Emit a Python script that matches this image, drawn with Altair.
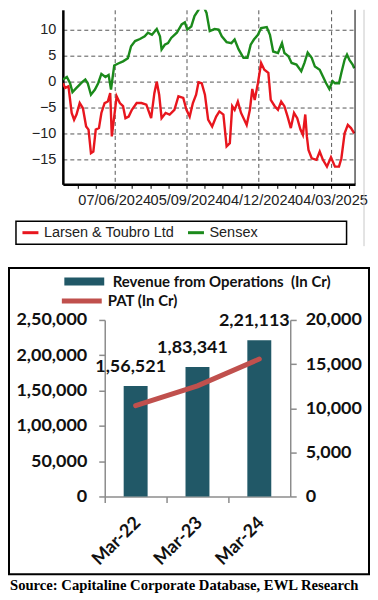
import altair as alt
import pandas as pd

# ---------------- Top chart: relative performance (%) ----------------
lt_name = "Larsen & Toubro Ltd"
sx_name = "Sensex"

lt_dates = ["2024-04-04","2024-04-07","2024-04-11","2024-04-15","2024-04-18","2024-04-21","2024-04-25","2024-04-29","2024-05-03","2024-05-06",
            "2024-05-09","2024-05-12","2024-05-15","2024-05-19","2024-05-22","2024-05-26","2024-05-30","2024-06-02","2024-06-04","2024-06-07",
            "2024-06-10","2024-06-14","2024-06-18","2024-06-21","2024-06-25","2024-06-29","2024-07-05","2024-07-11","2024-07-17","2024-07-23",
            "2024-07-27","2024-07-30","2024-08-02","2024-08-05","2024-08-10","2024-08-15","2024-08-21","2024-08-26","2024-09-01","2024-09-05",
            "2024-09-09","2024-09-13","2024-09-17","2024-09-20","2024-09-24","2024-09-28","2024-10-02","2024-10-07","2024-10-12","2024-10-16",
            "2024-10-21","2024-10-25","2024-10-29","2024-11-01","2024-11-04","2024-11-08","2024-11-12","2024-11-16","2024-11-19","2024-11-23",
            "2024-11-26","2024-11-29","2024-12-03","2024-12-07","2024-12-11","2024-12-16","2024-12-19","2024-12-24","2024-12-28","2025-01-01",
            "2025-01-05","2025-01-09","2025-01-13","2025-01-17","2025-01-21","2025-01-25","2025-01-28","2025-01-31","2025-02-02","2025-02-04",
            "2025-02-08","2025-02-14","2025-02-18","2025-02-22","2025-02-27","2025-03-04","2025-03-09","2025-03-14","2025-03-17","2025-03-21",
            "2025-03-25","2025-03-29","2025-04-02"]
lt_values = [-0.3,-1.2,-0.9,-6.0,-7.3,-6.3,-4.1,-5.1,-8.6,-9.2,
             -13.7,-13.4,-9.2,-8.9,-6.0,-4.1,-3.8,-2.2,-10.5,-6.7,
             -2.8,-4.1,-4.7,-7.0,-6.7,-5.4,-4.1,-4.1,-4.4,-7.0,
             -2.2,0.0,-2.5,-7.0,-6.0,-6.3,-5.4,-2.8,-3.1,-5.4,
             -6.7,-4.1,-2.5,-0.1,-0.3,-2.5,-7.3,-8.6,-6.7,-5.7,
             -6.3,-12.4,-11.8,-4.7,-5.4,-3.8,-6.0,-7.3,-8.3,-5.4,
             -1.4,-3.5,-0.3,3.6,2.3,1.7,-3.5,-4.7,-5.4,-3.8,
             -4.7,-6.7,-8.9,-6.0,-7.0,-9.2,-10.2,-6.3,-10.5,-13.1,
             -14.7,-15.0,-13.4,-15.0,-16.3,-14.5,-16.3,-16.3,-14.7,-9.9,
             -8.3,-8.9,-9.9]

sx_dates = ["2024-04-04","2024-04-09","2024-04-13","2024-04-16","2024-04-21","2024-04-28","2024-05-02","2024-05-05","2024-05-09","2024-05-14",
            "2024-05-18","2024-05-22","2024-05-27","2024-05-31","2024-06-03","2024-06-07","2024-06-12","2024-06-18","2024-06-24","2024-06-28",
            "2024-07-03","2024-07-09","2024-07-15","2024-07-19","2024-07-24","2024-07-30","2024-08-03","2024-08-05","2024-08-09","2024-08-13",
            "2024-08-17","2024-08-24","2024-08-30","2024-09-03","2024-09-06","2024-09-11","2024-09-15","2024-09-20","2024-09-24","2024-09-27",
            "2024-09-30","2024-10-04","2024-10-10","2024-10-15","2024-10-19","2024-10-25","2024-10-31","2024-11-04","2024-11-09","2024-11-15",
            "2024-11-20","2024-11-24","2024-11-28","2024-12-03","2024-12-07","2024-12-14","2024-12-18","2024-12-22","2024-12-28","2025-01-02",
            "2025-01-05","2025-01-10","2025-01-14","2025-01-20","2025-01-26","2025-01-30","2025-02-03","2025-02-08","2025-02-12","2025-02-18",
            "2025-02-22","2025-02-26","2025-03-02","2025-03-06","2025-03-09","2025-03-14","2025-03-17","2025-03-21","2025-03-24","2025-03-27",
            "2025-03-31","2025-04-02"]
sx_values = [0.4,0.9,-0.3,-2.0,-1.2,-0.1,0.4,-0.3,-2.5,-1.5,
             -0.3,1.5,0.9,1.3,-1.5,3.1,3.5,3.9,4.5,6.8,
             7.8,8.2,8.7,9.4,9.0,10.1,8.7,6.2,7.1,7.4,
             8.4,9.4,11.0,11.4,10.0,10.6,12.6,13.8,15.1,14.2,
             13.2,9.7,10.1,10.0,8.7,7.6,7.4,8.1,6.2,4.6,
             4.6,7.1,8.1,9.0,10.3,10.5,9.0,5.8,5.5,7.4,
             5.5,4.9,3.6,3.3,2.0,3.6,5.6,4.6,2.9,2.3,
             1.0,-0.3,-1.4,0.1,-0.3,-0.3,1.7,4.2,5.2,4.2,
             3.3,2.6]

major_labels = ["07/06/2024", "05/09/2024", "04/12/2024", "04/03/2025"]
tick_dates = ["2024-04-23","2024-05-15","2024-06-07","2024-06-29","2024-07-22","2024-08-14",
              "2024-09-05","2024-09-28","2024-10-20","2024-11-12","2024-12-04","2024-12-27",
              "2025-01-18","2025-02-10","2025-03-04","2025-03-27"]
x_start, x_end = "2024-04-04", "2025-04-03"
y_ticks = [-15, -10, -5, 0, 5, 10]

# ---------------- Bottom chart: revenue & PAT ----------------
periods = ["Mar-22", "Mar-23", "Mar-24"]
revenue = [156521, 183341, 221113]
revenue_labels = ["1,56,521", "1,83,341", "2,21,113"]
pat = [10291, 12531, 15569]
rev_axis_values = [0, 50000, 100000, 150000, 200000, 250000]
rev_axis_labels = ["0", "50,000", "1,00,000", "1,50,000", "2,00,000", "2,50,000"]
pat_axis_values = [0, 5000, 10000, 15000, 20000]
rev_name = "Revenue from Operations\u00a0 (In Cr)"
pat_name = "PAT (In Cr)"
source_text = "Source: Capitaline Corporate Database, EWL Research"


def ms(d):
    return int(pd.Timestamp(d, tz="UTC").timestamp() * 1000)


one = pd.DataFrame({"k": [0]})

# ---------- top chart ----------
W1, H1 = 293, 175
lines_df = pd.DataFrame({
    "date": lt_dates + sx_dates,
    "value": lt_values + sx_values,
    "series": [lt_name] * len(lt_dates) + [sx_name] * len(sx_dates),
})
major_js = "[" + ",".join("'" + s + "'" for s in major_labels) + "]"
is_major = "indexof(" + major_js + ", utcFormat(datum.value, '%d/%m/%Y')) >= 0"

x_top = alt.X(
    "date:T", title=None,
    scale=alt.Scale(type="utc", domain=[ms(x_start), ms(x_end)], nice=False),
    axis=alt.Axis(
        values=[ms(d) for d in tick_dates],
        labelExpr=is_major + " ? utcFormat(datum.value, '%d/%m/%Y') : ''",
        labelOverlap=False, labelFlush=False, labelBound=False,
        grid=True, gridOpacity={"condition": {"test": is_major, "value": 1}, "value": 0},
        gridDash=[4, 3], gridColor="#555555", gridWidth=1,
        domainColor="black", domainWidth=2.5,
        tickColor="black", tickSize=4, tickWidth=1,
        labelFont="Liberation Sans", labelFontSize=14.6, labelColor="#222222", labelPadding=4,
    ),
)
y_top = alt.Y(
    "value:Q", title=None,
    scale=alt.Scale(domain=[-19.7, 13.8], nice=False, zero=False),
    axis=alt.Axis(
        values=y_ticks, grid=True, gridDash=[4, 3], gridColor="#555555", gridWidth=1,
        domainColor="black", domainWidth=2.5, ticks=False, labelOverlap=False,
        labelFont="Liberation Sans", labelFontSize=14.5, labelColor="#222222", labelPadding=7,
    ),
)
color_top = alt.Color(
    "series:N",
    scale=alt.Scale(domain=[lt_name, sx_name], range=["#e8161e", "#1b8a1b"]),
    legend=alt.Legend(
        title=None, orient="none", legendX=-42, legendY=214, direction="horizontal",
        symbolType="stroke", symbolSize=256, symbolStrokeWidth=3,
        labelFont="Liberation Sans", labelFontSize=14.5, labelColor="#222222",
        labelOffset=4, columnPadding=7, labelLimit=300, padding=0,
    ),
)
lines = alt.Chart(lines_df).mark_line(strokeWidth=2.4, clip=True).encode(
    x=x_top, y=y_top, color=color_top
)
frame_right = alt.Chart(one).mark_rule(color="black", strokeWidth=1).encode(
    x=alt.value(W1), y=alt.value(0), y2=alt.value(H1))
page_line = alt.Chart(one).mark_rule(color="#c8c8c8", strokeWidth=1).encode(
    x=alt.value(302), y=alt.value(0), y2=alt.value(237))
legend_box = alt.Chart(one).mark_rect(fillOpacity=0, stroke="black", strokeWidth=1.5).encode(
    x=alt.value(-47), x2=alt.value(284.5), y=alt.value(212), y2=alt.value(235))
left_anchor = alt.Chart(one).mark_rule(color="white", strokeWidth=1).encode(
    x=alt.value(-53), y=alt.value(0), y2=alt.value(2))

top = alt.layer(lines, frame_right, page_line, legend_box, left_anchor).properties(width=W1, height=H1)

# ---------- bottom chart ----------
# Both panels share the same left origin (concat aligns view origins), so the
# bottom panel's plot area is shifted right inside its view by SHIFT pixels.
SHIFT = 42
PW2, H2 = 186, 177
W2 = SHIFT + PW2
bar_df = pd.DataFrame({
    "period": periods, "revenue": revenue, "label": revenue_labels, "pat": pat,
    "rev_name": [rev_name] * 3, "pat_name": [pat_name] * 3,
})
rev_labels_js = "[" + ",".join("'" + s + "'" for s in rev_axis_labels) + "]"
bold = dict(labelFont="Lato", labelFontWeight="bold", labelFontSize=18, labelColor="#111111",
            labelOverlap=False)

x_bot = alt.X(
    "period:N", sort=periods, title=None,
    scale=alt.Scale(paddingInner=0, paddingOuter=0, range=[SHIFT, W2]),
    axis=alt.Axis(labelAngle=-45, bandPosition=0, labelPadding=11, labelOffset=-4,
                  domainColor="#8c8c8c", domainWidth=1.5, tickColor="#8c8c8c", tickSize=6,
                  tickWidth=1.5, **bold),
)
y_rev = alt.Y(
    "revenue:Q", title=None, scale=alt.Scale(domain=[0, 250000], nice=False),
    axis=alt.Axis(values=rev_axis_values, offset=-SHIFT,
                  labelExpr=rev_labels_js + "[round(datum.value / 50000)]",
                  grid=False, domainColor="#8c8c8c", domainWidth=1.5,
                  tickColor="#8c8c8c", tickSize=6, tickWidth=1.5, labelPadding=12, **bold),
)
legend_font = dict(labelFont="Lato", labelFontWeight="bold", labelFontSize=15,
                   labelColor="#111111", labelLimit=400, padding=0, title=None, orient="none")
bars = alt.Chart(bar_df).mark_bar(size=24).encode(
    x=x_bot,
    y=y_rev,
    fill=alt.Fill("rev_name:N", scale=alt.Scale(range=["#215867"]),
                  legend=alt.Legend(legendX=SHIFT - 28, legendY=-46,
                                    symbolType="M-5,-1H5V1H-5Z", symbolSize=64,
                                    symbolStrokeWidth=0, labelOffset=21, **legend_font)),
)
bar_text = alt.Chart(bar_df).mark_text(font="Lato", fontWeight="bold", fontSize=18, color="#111111",
                                        baseline="middle", dy=-19, dx=-5).encode(
    x=x_bot, y=y_rev, text="label:N")
border = alt.Chart(one).mark_rect(fillOpacity=0, stroke="black", strokeWidth=2).encode(
    x=alt.value(SHIFT - 96), x2=alt.value(SHIFT + 265), y=alt.value(-52), y2=alt.value(255))
left_part = alt.layer(bars, bar_text, border)

pat_line = alt.Chart(bar_df).mark_line(strokeWidth=5, strokeCap="round").encode(
    x=x_bot,
    y=alt.Y("pat:Q", title=None, scale=alt.Scale(domain=[0, 20000], nice=False),
            axis=alt.Axis(orient="right", values=pat_axis_values, format=",d", grid=False,
                          domainColor="#8c8c8c", domainWidth=1.5, tickColor="#8c8c8c",
                          tickSize=6, tickWidth=1.5, labelPadding=9, **bold)),
    stroke=alt.Stroke("pat_name:N", scale=alt.Scale(range=["#c0504d"]),
                      legend=alt.Legend(legendX=SHIFT - 30.5, legendY=-26.5,
                                        symbolType="M-5,0H5", symbolSize=64, symbolStrokeWidth=5,
                                        labelOffset=18.5, **legend_font)),
)

bottom = alt.layer(left_part, pat_line).resolve_scale(y="independent").properties(
    width=W2, height=H2,
    title=alt.TitleParams(source_text, orient="bottom", anchor="start", font="Liberation Serif",
                          fontSize=14.7, fontWeight="bold", color="black", offset=3, dx=2),
)

chart = (
    alt.vconcat(top, bottom, spacing=20)
    .resolve_legend(color="independent", fill="independent", stroke="independent")
    .properties(padding=0)
    .configure_view(stroke=None)
)

chart.save("out.html", embed_options={"renderer": "svg", "actions": False})
